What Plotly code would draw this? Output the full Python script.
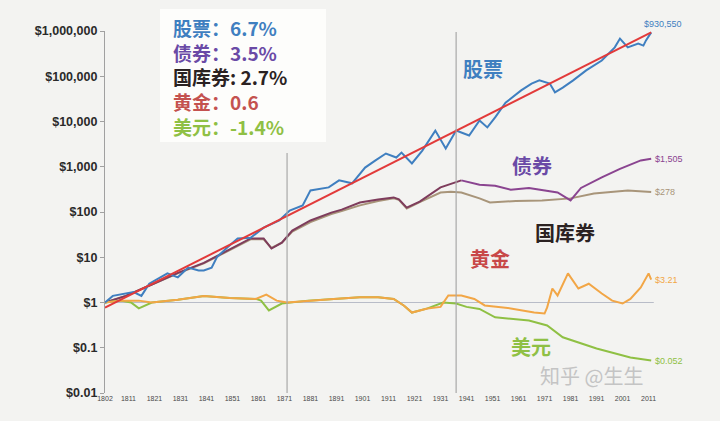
import numpy as np
import plotly.graph_objects as go

stock_years = [1802, 1805, 1813, 1816, 1819, 1826, 1830, 1834, 1838, 1840, 1843, 1845, 1849, 1853,
               1858, 1863, 1869, 1873, 1878, 1881, 1888, 1892, 1897, 1902, 1906, 1910, 1914, 1916,
               1920, 1924, 1929, 1933, 1937, 1942, 1946, 1949, 1952, 1956, 1962, 1966, 1969, 1973,
               1975, 1978, 1982, 1987, 1993, 1998, 2000, 2003, 2007, 2009, 2010, 2012]
stock_vals = [1.0, 1.4, 1.7, 1.4, 2.6, 4.4, 3.6, 5.9, 5.1, 5.1, 5.9, 10, 16.5, 26,
              27, 45, 65, 108, 139, 300, 350, 500, 430, 960, 1380, 1960, 1600, 2050,
              1180, 2280, 6300, 2530, 6300, 4900, 10500, 7400, 12300, 26000, 48700, 69000, 81000, 69000,
              44000, 56000, 81000, 135000, 223000, 435000, 680000, 435000, 525000, 476000, 620000, 930550]

bond_years = [1802, 1810, 1820, 1830, 1840, 1850, 1855, 1858, 1863, 1866, 1870, 1874, 1881, 1889,
              1893, 1900, 1907, 1913, 1915, 1918, 1923, 1931, 1939, 1946, 1952, 1958, 1965, 1976,
              1981, 1985, 1993, 2000, 2008, 2012]
bond_vals = [1.0, 1.4, 2.5, 4.5, 7.5, 15, 22, 26, 26, 15.6, 21, 39, 65, 97,
             113, 162, 190, 210, 190, 125, 170, 350, 500, 400, 380, 310, 340, 270,
             180, 340, 580, 900, 1380, 1505]

bill_years = [1802, 1810, 1820, 1830, 1840, 1850, 1855, 1858, 1863, 1866, 1870, 1874, 1881, 1889,
              1893, 1900, 1907, 1913, 1915, 1918, 1923, 1931, 1935, 1939, 1946, 1950, 1960, 1970,
              1981, 1990, 2003, 2008, 2012]
bill_vals = [1.0, 1.4, 2.5, 4.4, 7.3, 14.5, 21, 25, 25, 16, 21, 37, 60, 90,
             105, 140, 175, 200, 185, 120, 165, 270, 280, 270, 200, 162, 175, 180,
             200, 255, 300, 290, 278]

gold_years = [1802, 1808, 1815, 1820, 1830, 1840, 1850, 1860, 1864, 1868, 1872, 1880, 1890, 1900,
              1907, 1913, 1917, 1920, 1926, 1931, 1934, 1939, 1944, 1948, 1958, 1967, 1971, 1972,
              1974, 1976, 1980, 1984, 1988, 1993, 1997, 2001, 2004, 2008, 2011, 2012]
gold_vals = [1.0, 1.1, 1.1, 1.0, 1.15, 1.4, 1.25, 1.2, 1.5, 1.1, 1.0, 1.1, 1.2, 1.3,
             1.3, 1.2, 0.85, 0.6, 0.74, 0.8, 1.43, 1.43, 1.2, 0.86, 0.74, 0.6, 0.57, 0.78,
             2.04, 1.43, 4.4, 2.04, 2.6, 1.58, 1.1, 0.95, 1.2, 2.15, 4.4, 3.21]

dollar_years = [1802, 1808, 1812, 1815, 1820, 1830, 1840, 1850, 1860, 1862, 1865, 1870, 1880, 1890,
                1900, 1907, 1913, 1917, 1920, 1926, 1932, 1937, 1941, 1946, 1952, 1965, 1972, 1978,
                1985, 1991, 2004, 2012]
dollar_vals = [1.0, 1.1, 1.0, 0.74, 1.0, 1.15, 1.4, 1.25, 1.2, 1.1, 0.67, 0.95, 1.1, 1.2,
               1.3, 1.3, 1.2, 0.85, 0.6, 0.74, 1.0, 0.95, 0.8, 0.72, 0.47, 0.40, 0.31, 0.17,
               0.124, 0.096, 0.061, 0.052]

trend_years = [1802, 2012]
trend_vals = [0.77, 930550]

x_ticks = [1802] + list(range(1811, 2012, 10))
y_ticks = [0.01, 0.1, 1, 10, 100, 1000, 10000, 100000, 1000000]
y_labels = ["$0.01", "$0.1", "$1", "$10", "$100", "$1,000", "$10,000", "$100,000", "$1,000,000"]
period_lines = [1872, 1937]

legend_rows = ["股票：6.7%", "债券：3.5%", "国库券: 2.7%", "黄金：0.6", "美元：-1.4%"]
end_labels = ["$930,550", "$1,505", "$278", "$3.21", "$0.052"]

BLUE = "#3f7fc0"
MAROON = "#7e3c5c"
PURPLE = "#8a4490"
TAN = "#a8957a"
GOLD = "#f2a646"
GREEN = "#8fc044"
RED = "#e23a3a"
CJK = "Noto Sans CJK SC"

# plot area in pixels: left 105, right 672, top 31, bottom 393
def px_x(p):
    return (p - 105) / 567

def px_y(p):
    return (393 - p) / 362

fig = go.Figure()

# reference line at $1
fig.add_trace(go.Scatter(x=[1802, 2013], y=[1, 1], mode="lines",
                         line=dict(color="#b8bcc8", width=1.2), hoverinfo="skip"))

fig.add_trace(go.Scatter(x=bill_years, y=bill_vals, mode="lines", name="国库券",
                         line=dict(color=TAN, width=2)))

# bonds: darker before 1940, purple after
split = bond_years.index(1939) + 1
fig.add_trace(go.Scatter(x=bond_years[:split], y=bond_vals[:split], mode="lines", name="债券",
                         line=dict(color=MAROON, width=2)))
fig.add_trace(go.Scatter(x=bond_years[split - 1:], y=bond_vals[split - 1:], mode="lines", name="债券",
                         line=dict(color=PURPLE, width=2)))

for xs, ys, col, name in [(dollar_years, dollar_vals, GREEN, "美元"),
                          (gold_years, gold_vals, GOLD, "黄金"),
                          (stock_years, stock_vals, BLUE, "股票")]:
    fig.add_trace(go.Scatter(x=xs, y=ys, mode="lines", name=name,
                             line=dict(color=col, width=2)))

fig.add_trace(go.Scatter(x=trend_years, y=trend_vals, mode="lines", name="趋势",
                         line=dict(color=RED, width=2)))

# period separators
tops = [px_y(153), px_y(32)]
for yr, top in zip(period_lines, tops):
    fig.add_shape(type="line", xref="x", yref="paper", x0=yr, x1=yr, y0=0, y1=top,
                  line=dict(color="#a8a8a8", width=1.2))

# legend box
fig.add_shape(type="rect", xref="paper", yref="paper", layer="below",
              x0=px_x(160), x1=px_x(326), y0=px_y(142), y1=px_y(9),
              fillcolor="#fdfdfb", line=dict(width=0))

row_colors = [BLUE, "#6a4aa6", "#2b2222", "#c4524f", GREEN]
legend_text = "<br>".join("<span style='color:%s'>%s</span>" % (c, t)
                          for t, c in zip(legend_rows, row_colors))
fig.add_annotation(x=px_x(171), y=px_y(77), xref="paper", yref="paper",
                   text=legend_text, showarrow=False, xanchor="left", yanchor="middle", align="left",
                   font=dict(family=CJK, size=19, weight="bold"))

# series names
names = [("股票", BLUE, 505, 52), ("债券", "#6a4aa6", 554, 149), ("国库券", "#2b2222", 597, 232),
         ("黄金", "#c84848", 512, 275), ("美元", GREEN, 553, 363)]
for txt, col, xx, yy in names:
    fig.add_annotation(x=px_x(xx), y=px_y(yy), xref="paper", yref="paper",
                       text=txt, showarrow=False,
                       font=dict(family=CJK, size=20, color=col, weight="bold"))

# values at the end of each series
ends = [(stock_years, stock_vals, BLUE), (bond_years, bond_vals, PURPLE),
        (bill_years, bill_vals, TAN), (gold_years, gold_vals, GOLD),
        (dollar_years, dollar_vals, GREEN)]
for lab, (xs, ys, col) in zip(end_labels, ends):
    if lab == end_labels[0]:
        fig.add_annotation(x=xs[-1], y=np.log10(ys[-1]), xref="x", yref="y", text=lab,
                           showarrow=False, xanchor="center", yanchor="bottom", xshift=12, yshift=1,
                           font=dict(family="Liberation Sans", size=9, color=col))
    else:
        fig.add_annotation(x=xs[-1], y=np.log10(ys[-1]), xref="x", yref="y", text=lab,
                           showarrow=False, xanchor="left", yanchor="middle", xshift=2,
                           font=dict(family="Liberation Sans", size=9, color=col))

# watermark
fig.add_annotation(x=px_x(645), y=px_y(392), xref="paper", yref="paper", text="知乎 @生生",
                   showarrow=False, font=dict(family=CJK, size=20, color="#c4c4c4"))

fig.update_xaxes(range=[1802, 2020], tickvals=x_ticks, showgrid=False, zeroline=False,
                 showline=False, ticks="",
                 tickfont=dict(family="Liberation Sans", size=7, color="#4a4a4a"))
fig.update_yaxes(type="log", range=[-2, 6], tickvals=y_ticks, ticktext=y_labels,
                 showgrid=False, zeroline=False, showline=True, linecolor="#a0a0a0", linewidth=1.2,
                 ticks="outside", ticklen=4, tickcolor="#a0a0a0",
                 tickfont=dict(family="Liberation Sans", size=12.5, color="#2a2a2a", weight="bold"))

fig.update_layout(width=720, height=421, showlegend=False,
                  margin=dict(l=105, r=48, t=31, b=28, autoexpand=False),
                  paper_bgcolor="#f3f3f1", plot_bgcolor="#f3f3f1")

# page has a default 8px body margin; drop it so the figure sits at the window corner
fig.write_html("out.html", config={"displayModeBar": False},
               post_script="document.body.style.margin='0';document.body.style.background='#f3f3f1';")
